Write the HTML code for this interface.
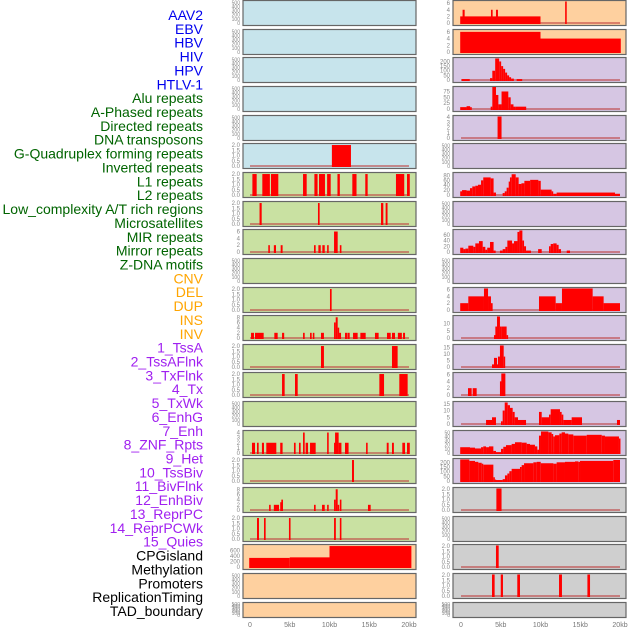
<!DOCTYPE html>
<html><head><meta charset="utf-8"><style>
body{margin:0;background:#fff;}
svg{display:block;font-family:"Liberation Sans",sans-serif;}
</style></head><body>
<svg id="c" width="630" height="630"></svg>
<script>
const labels=["AAV2","EBV","HBV","HIV","HPV","HTLV-1","Alu repeats","A-Phased repeats","Directed repeats","DNA transposons","G-Quadruplex forming repeats","Inverted repeats","L1 repeats","L2 repeats","Low_complexity A/T rich regions","Microsatellites","MIR repeats","Mirror repeats","Z-DNA motifs","CNV","DEL","DUP","INS","INV","1_TssA","2_TssAFlnk","3_TxFlnk","4_Tx","5_TxWk","6_EnhG","7_Enh","8_ZNF_Rpts","9_Het","10_TssBiv","11_BivFlnk","12_EnhBiv","13_ReprPC","14_ReprPCWk","15_Quies","CPGisland","Methylation","Promoters","ReplicationTiming","TAD_boundary"];
const labelColors=["#0000ee","#0000ee","#0000ee","#0000ee","#0000ee","#0000ee","#006400","#006400","#006400","#006400","#006400","#006400","#006400","#006400","#006400","#006400","#006400","#006400","#006400","#ffa500","#ffa500","#ffa500","#ffa500","#ffa500","#a020f0","#a020f0","#a020f0","#a020f0","#a020f0","#a020f0","#a020f0","#a020f0","#a020f0","#a020f0","#a020f0","#a020f0","#a020f0","#a020f0","#a020f0","#000","#000","#000","#000","#000"];
const xTicks=[0,5,10,15,20];
const xTickLabels=["0","5kb","10kb","15kb","20kb"];
const T5=[0,100,200,300,400,500], T2=[0,0.5,1,1.5,2];
const midFill=["b","b","b","b","b","b","g","g","g","g","g","g","g","g","g","g","g","g","g","o","o","o"];
const midTicks=[T5,T5,T5,T5,T5,T2,T2,T2,[0,2,4,6],T5,T2,[0,2,4,6,8],T2,T2,T5,[0,1,2,3,4],T2,[0,2,4,6,8],T2,[0,200,400,600],T5,T5];
const midMax=[520,520,520,520,520,2.05,2.05,2.05,6.3,520,2.05,8.3,2.05,2.05,520,4.2,2.05,8.3,2.05,780,520,520];
const midBars=[[],[],[],[],[],
[[10.3,12.7,2]],
[[0.3,0.84,2],[1.55,2.5,2],[2.64,3.56,2],[6.67,7.13,2],[8.1,8.5,2],[8.68,9.43,2],[9.7,10.15,2],[11,11.3,2],[12.87,13.4,2],[14.5,14.8,2],[18.36,19.4,2],[19.75,20.1,2]],
[[1.2,1.47,2],[8.55,8.76,2],[16.48,16.77,2],[17.06,17.3,2]],
[[2.3,2.5,2],[3.0,3.27,2],[3.86,4.1,2],[8.05,8.26,2],[8.6,8.9,2],[9.1,9.4,2],[9.7,9.9,2],[10.57,11.03,6],[11.3,11.5,2]],
[],
[[10.06,10.27,2]],
[[0.13,0.5,2],[0.63,1.72,2],[3.06,3.48,2],[4.03,4.3,2],[6.67,6.88,2],[7.55,7.76,2],[7.9,8.1,2],[8.93,9.3,2],[10.57,10.78,6],[10.78,11.03,8],[11.03,11.2,4],[11.2,11.45,2],[11.95,12.2,2],[12.25,12.54,2],[12.96,13.54,2],[13.88,14.55,2],[15.72,16.18,2],[17.23,17.7,2],[17.86,18.24,2],[18.6,19.1,2],[19.25,19.5,2]],
[[8.93,9.3,2],[17.86,18.57,2]],
[[4.03,4.36,2],[5.66,6.0,2],[16.27,16.86,2],[18.78,19.83,2]],
[],
[[0.25,0.63,2],[0.88,1.09,2],[1.5,1.76,2],[2.05,3.31,2],[3.8,4.1,2],[5.53,5.74,2],[6.16,6.37,2],[6.67,6.88,4],[7.0,7.3,2],[7.55,8.26,2],[9.7,9.9,4],[10.57,10.7,2],[10.7,11.15,4],[11.15,11.5,2],[11.95,12.4,2],[14.6,14.8,2],[17.2,17.44,2],[17.86,18.1,2],[19.16,19.5,2],[19.75,20.1,2]],
[[12.83,13.08,2]],
[[2.4,2.6,2],[3.0,3.65,2],[3.8,3.94,3],[3.94,4.15,4],[8.05,8.26,2],[9.06,9.4,2],[9.7,9.9,2],[10.57,10.78,4],[10.78,11.03,8],[11.03,11.2,2],[11.3,11.5,4],[14.84,15.18,2]],
[[0.88,1.13,2],[1.76,1.97,2],[4.9,5.1,2],[10.57,10.8,2],[11.3,11.5,2]],
[[-0.1,5,330],[5,10,350],[10,20.3,760]],
[],[]];
const rightFill=["o","o","p","p","p","p","p","p","p","p","p","p","p","p","p","p","p","r","r","r","r","r"];
const rightTicks=[[0,2,4,6],[0,2,4,6],[0,50,100,150,200],[0,25,50,75],[0,1,2,3,4],T5,[0,20,40,60,80],T5,[0,20,40,60],T5,[0,2,4,6],[0,5,10],[0,5,10,15],[0,2,4,6],[0,5,10,15],[0,10,20,30,40,50],[0,50,100,150,200],T2,T5,T2,T2,T5];
const rightMax=[6.5,6.4,232,92,4.1,520,88,520,75,520,6.3,15,16.5,6.3,16,52,230,2.05,520,2.05,2.05,520];
const rightBars=[
[[-0.1,10,2],[0.2,0.46,4],[3.77,3.98,4],[4.4,4.65,4],[13.1,13.3,6.5]],
[[-0.1,10,6],[10,20.1,4]],
[[0.1,1.1,10],[3.65,3.94,20],[3.94,4.3,100],[4.3,4.8,232],[4.8,5.05,200],[5.05,5.3,150],[5.3,5.55,120],[5.55,5.8,80],[5.8,6.05,50],[6.05,6.3,30],[6.3,6.65,15],[7,7.7,10]],
[[-0.1,0.7,8],[0.7,1.15,12],[1.15,1.35,8],[3.73,3.94,10],[3.94,4.4,95],[4.4,4.7,60],[4.7,5.1,20],[5.1,5.95,75],[5.95,6.25,50],[6.25,6.6,20],[6.6,6.9,10],[6.9,8.2,10]],
[[4.6,5.1,4.1]],
[],
[[-0.1,0.13,15],[0.13,0.7,20],[0.7,1.13,18],[1.13,1.42,28],[1.42,1.8,35],[1.8,2.14,38],[2.14,2.52,42],[2.52,2.8,60],[2.8,3.73,72],[3.73,4.1,68],[4.1,4.4,10],[5.24,5.5,8],[5.5,5.74,15],[5.74,6.0,30],[6.0,6.16,55],[6.16,6.37,72],[6.37,6.88,85],[6.88,7.25,72],[7.25,7.6,45],[7.6,7.97,48],[7.97,8.7,58],[8.7,9.73,62],[9.73,10.03,58],[10.03,11.4,22],[11.4,11.6,15],[11.6,12.03,5],[12.03,19.37,10],[19.37,20,5]],
[],
[[-0.1,0.3,15],[0.3,0.55,10],[0.55,0.92,12],[0.92,1.55,22],[1.55,1.8,18],[1.8,2.26,30],[2.26,2.73,38],[2.73,3.06,18],[3.06,3.3,8],[3.3,3.65,15],[3.65,4.1,35],[4.1,4.36,5],[4.9,5.24,5],[5.24,5.58,10],[5.58,5.83,18],[5.83,6.42,40],[6.42,6.67,30],[6.67,7.1,38],[7.1,7.34,70],[7.34,7.72,75],[7.72,7.93,40],[7.93,8.18,20],[8.18,8.8,5],[9.7,10.15,10],[11.07,11.28,20],[11.28,11.6,28],[11.6,12.03,30],[12.03,12.28,25],[12.28,12.58,10],[13.3,13.71,5]],
[],
[[-0.1,0.92,2],[0.92,2.89,4],[2.89,3.4,6.3],[3.4,3.77,4],[3.77,3.98,2],[9.81,11.91,4],[11.91,12.7,2],[12.7,16.56,6.3],[16.56,17.94,4],[17.94,20,2]],
[[4.15,4.32,2],[4.32,4.53,8],[4.53,4.9,15],[4.9,5.11,8],[5.11,5.74,8],[5.74,5.91,2]],
[[3.9,4.15,2],[4.15,4.53,7],[4.53,4.65,2],[4.65,4.9,8],[4.9,5.37,16.5],[5.37,5.53,8]],
[[0.88,1.34,2],[1.47,1.97,2],[4.9,5.07,4],[5.07,5.58,6.3]],
[[3.15,3.9,3],[3.9,4.4,5],[5.03,5.24,2],[5.24,5.5,10],[5.5,5.87,16],[5.87,6.16,14],[6.16,6.5,12],[6.5,6.75,9],[6.75,7.17,5],[7.17,8.18,3],[9.81,10.15,9],[10.15,11.07,5],[11.07,11.28,7],[11.28,12.45,11],[12.45,12.66,9],[12.66,12.87,7],[12.87,13.92,3],[13.92,15.22,5],[19.62,20,3]],
[[-0.1,1.13,14],[1.13,1.76,13],[1.76,2.52,11],[2.52,2.8,14],[2.8,3.15,16],[3.15,3.52,14],[3.52,4.07,16],[4.07,4.4,5],[4.4,5.03,2],[5.03,5.32,10],[5.32,5.66,15],[5.66,6.37,19],[6.37,6.79,22],[6.79,7.63,26],[7.63,8.26,25],[8.26,8.68,22],[8.68,9.3,20],[9.3,9.6,16],[9.6,9.81,8],[9.81,10.06,42],[10.06,10.99,52],[10.99,11.4,50],[11.4,11.6,46],[11.6,11.82,40],[11.82,12.37,43],[12.37,12.66,47],[12.66,13.08,50],[13.08,13.5,47],[13.5,14.13,45],[14.13,15.81,42],[15.81,17.7,44],[17.7,18.11,42],[18.11,19.87,40],[19.87,20,35]],
[[-0.1,1.05,230],[1.05,1.76,215],[1.76,2.18,205],[2.18,2.6,195],[2.6,2.8,185],[2.8,4.07,175],[4.07,4.23,40],[4.23,4.4,15],[4.4,5.24,10],[5.24,5.53,20],[5.53,5.83,60],[5.83,6.08,80],[6.08,6.37,105],[6.37,7.42,130],[7.42,7.63,150],[7.63,7.93,170],[7.93,9.1,190],[9.1,9.52,200],[9.52,10.03,205],[10.03,11.62,190],[11.62,12.03,185],[12.03,13.08,200],[13.08,14.34,205],[14.34,14.76,210],[14.76,14.97,205],[14.97,19.16,215],[19.16,20,225]],
[[4.45,5.1,2.05]],
[],
[[4.4,4.74,2.05]],
[[3.9,4.23,2.05],[5.0,5.28,2.05],[7.08,7.42,2.05],[12.33,12.7,2.05],[15.9,16.23,2.05]],
[]];

const fills={b:"#c7e4ec",g:"#c9e1a2",o:"#fed09f",p:"#d6c6e3",r:"#cfcfcf"};
const NS="http://www.w3.org/2000/svg";
const svg=document.getElementById('c');
function mk(tag,attrs,parent){const e=document.createElementNS(NS,tag);for(const k in attrs)e.setAttribute(k,attrs[k]);(parent||svg).appendChild(e);return e;}
const PX=7.95;
function rowTop(i){return i===0?0:Math.round(28.65*i);}
function rowH(i){return i===21?15:25;}

labels.forEach((l,i)=>{
  const t=mk('text',{x:203,y:20+i*13.86,'text-anchor':'end','font-size':14,fill:labelColors[i]});
  
  
  t.textContent=l;
});

function column(px0,boxX,fillKeys,ticksArr,maxArr,barsArr,colName){
  for(let i=0;i<22;i++){
    const top=rowTop(i),h=rowH(i);
    const g=mk('g',{});
    
    
    mk('rect',{x:boxX,y:top+0.5,width:173,height:h,fill:fills[fillKeys[i]],stroke:"#666",'stroke-width':1.2},g);
    const y0=top+h-2, yt=top+1.5;
    const ys=v=>y0-(v/maxArr[i])*(y0-yt);
    const xs=k=>px0+k*PX;
    const bars=barsArr[i];
    if(bars.length){
      const b=mk('line',{x1:xs(0),x2:xs(20),y1:y0,y2:y0,stroke:"rgba(190,60,60,0.55)",'stroke-width':2},g);
      
      
    }
    bars.forEach(s=>{
      const yy=Math.max(ys(s[2]),top+1);
      const r=mk('rect',{x:xs(s[0]),y:yy,width:Math.max(xs(s[1])-xs(s[0]),1.5),height:y0+1-yy,fill:"#ff0000"},g);
      
      
    });
    ticksArr[i].forEach(v=>{
      const y=ys(v);
      const lab=(ticksArr[i]===T2)?v.toFixed(1):String(v);
      const t=mk('text',{x:boxX-3,y:y+2,'text-anchor':'end','font-size':ticksArr[i].length>5?5:6,fill:"#888"},g);
      
      
      t.textContent=lab;
    });
  }
  xTicks.forEach((k,j)=>{
    const t=mk('text',{x:px0+k*PX,y:627,'text-anchor':'middle','font-size':7,fill:"#777"});
    
    
    t.textContent=xTickLabels[j];
  });
}
column(250,243,midFill,midTicks,midMax,midBars,'middle');
column(461,453,rightFill,rightTicks,rightMax,rightBars,'right');
</script>
</body></html>
